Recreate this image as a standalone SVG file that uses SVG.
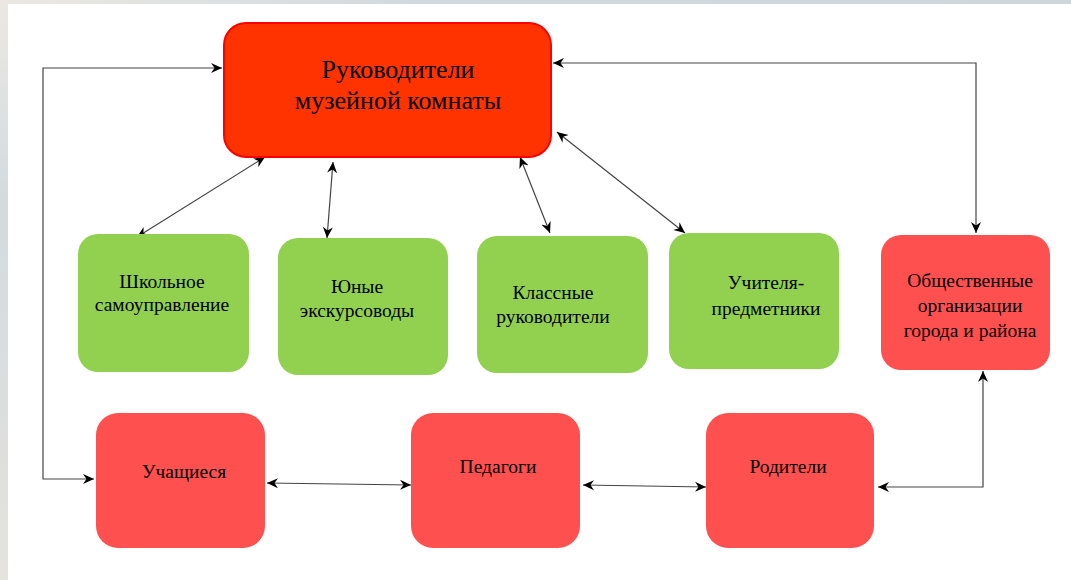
<svg xmlns="http://www.w3.org/2000/svg" width="1071" height="580" viewBox="0 0 1071 580">
<defs>
<linearGradient id="gTop" x1="0" y1="0" x2="1" y2="0">
<stop offset="0" stop-color="#ebe8e3"/><stop offset="0.4" stop-color="#cfd9de"/><stop offset="1" stop-color="#cdd6db"/>
</linearGradient>
<linearGradient id="gLeft" x1="0" y1="0" x2="0" y2="1">
<stop offset="0" stop-color="#ebe8e3"/><stop offset="0.35" stop-color="#d3dbdf"/><stop offset="0.7" stop-color="#dcdedd"/><stop offset="1" stop-color="#e4e3df"/>
</linearGradient>
<marker id="arr" viewBox="-11 -6 12 12" markerWidth="12" markerHeight="12" refX="0" refY="0" orient="auto-start-reverse" markerUnits="userSpaceOnUse">
<path d="M0,0 L-11,-5 L-7.5,0 L-11,5 Z" fill="#000"/>
</marker>
<style>
.main{fill:#FF3300;stroke:#FF0000;stroke-width:2}
.green{fill:#92D050}
.red{fill:#FF5050}
text{font-family:'Liberation Serif','DejaVu Serif',serif;fill:#000;text-anchor:middle}
.t{font-size:19.5px}
.tm{font-size:26px}
.c{fill:none;stroke:#444;stroke-width:1.2;marker-start:url(#arr);marker-end:url(#arr)}
</style>
</defs>
<rect x="0" y="0" width="1071" height="580" fill="#fff"/>
<rect x="0" y="0" width="1071" height="4" fill="url(#gTop)"/>
<rect x="0" y="0" width="8" height="580" fill="url(#gLeft)"/>

<g id="connectors">
<path class="c" d="M222,68 H43 V479 H94"/>
<path class="c" d="M553,63 H976 V233"/>
<path class="c" d="M265,157 L137,237"/>
<path class="c" d="M333,162 L327,238"/>
<path class="c" d="M520,157 L550,233"/>
<path class="c" d="M557,132 L685,233"/>
<path class="c" d="M267,483 L411,485"/>
<path class="c" d="M583,485 L706,487"/>
<path class="c" d="M878,487 H983 V371"/>
</g>

<g id="n-main">
<rect class="main" x="224" y="23" width="327" height="134" rx="22"/>
<text class="tm" x="398" y="78">Руководители</text>
<text class="tm" x="398" y="109">музейной комнаты</text>
</g>
<g id="n-school">
<rect class="green" x="78" y="234" width="171" height="138" rx="20"/>
<text class="t" x="162" y="288">Школьное</text>
<text class="t" x="162" y="311">самоуправление</text>
</g>
<g id="n-guides">
<rect class="green" x="278" y="238" width="170" height="137" rx="20"/>
<text class="t" x="357" y="293">Юные</text>
<text class="t" x="357" y="317">экскурсоводы</text>
</g>
<g id="n-class">
<rect class="green" x="477" y="236" width="171" height="137" rx="20"/>
<text class="t" x="553" y="299">Классные</text>
<text class="t" x="553" y="323">руководители</text>
</g>
<g id="n-teachers">
<rect class="green" x="669" y="233" width="170" height="136" rx="20"/>
<text class="t" x="766" y="289">Учителя-</text>
<text class="t" x="766" y="315">предметники</text>
</g>
<g id="n-orgs">
<rect class="red" x="881" y="235" width="169" height="135" rx="20"/>
<text class="t" x="970" y="287">Общественные</text>
<text class="t" x="970" y="312">организации</text>
<text class="t" x="970" y="337">города и района</text>
</g>
<g id="n-students">
<rect class="red" x="96" y="413" width="169" height="135" rx="22"/>
<text class="t" x="184" y="478">Учащиеся</text>
</g>
<g id="n-pedagogues">
<rect class="red" x="411" y="413" width="169" height="135" rx="22"/>
<text class="t" x="498" y="473">Педагоги</text>
</g>
<g id="n-parents">
<rect class="red" x="706" y="413" width="168" height="135" rx="22"/>
<text class="t" x="788" y="473">Родители</text>
</g>
</svg>
